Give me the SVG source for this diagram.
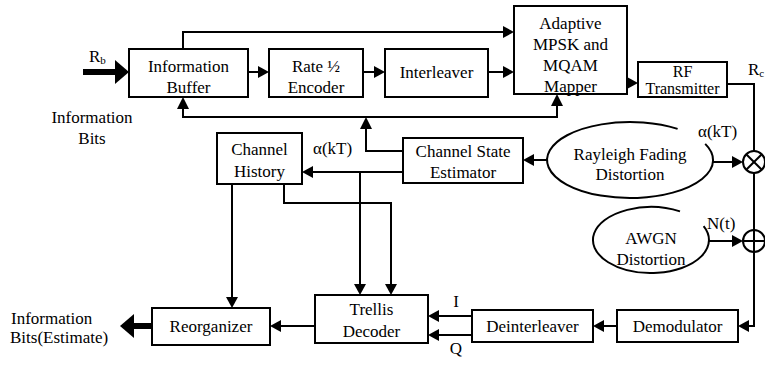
<svg xmlns="http://www.w3.org/2000/svg" width="765" height="365" viewBox="0 0 765 365" font-family="'Liberation Serif', 'DejaVu Serif', serif" font-size="17">
<style>
.box{fill:#fff;stroke:#000;stroke-width:2}
.ln{fill:none;stroke:#000;stroke-width:2}
.thick{fill:none;stroke:#000;stroke-width:6}
.ah{fill:#000}
text{font-family:'Liberation Serif','DejaVu Serif',serif;font-size:17px;fill:#000}
.c{text-anchor:middle}
</style>
<rect width="765" height="365" fill="#fff"/>
<g id="connectors">
  <line class="thick" x1="83" y1="72" x2="118" y2="72"/>
  <polygon class="ah" points="115,60 129,72 115,84"/>
  <line class="ln" x1="248" y1="72" x2="258" y2="72"/>
  <polygon class="ah" points="258,66 269,72 258,78"/>
  <line class="ln" x1="363" y1="72" x2="374" y2="72"/>
  <polygon class="ah" points="374,66 385,72 374,78"/>
  <line class="ln" x1="488" y1="72" x2="503" y2="72"/>
  <polygon class="ah" points="503,66 514,72 503,78"/>
  <polyline class="ln" points="183,49 183,32 503,32"/>
  <polygon class="ah" points="503,26 514,32 503,38"/>
  <polygon class="ah" points="627,77 638,83 627,89"/>
  <polyline class="ln" points="727,84 754,84 754,326 749,326"/>
  <polygon class="ah" points="749,320 738,326 749,332"/>
  <line class="ln" x1="617" y1="326" x2="604" y2="326"/>
  <polygon class="ah" points="604,320 593,326 604,332"/>
  <line class="ln" x1="472" y1="316" x2="439" y2="316"/>
  <polygon class="ah" points="439,310 428,316 439,322"/>
  <line class="ln" x1="472" y1="335" x2="439" y2="335"/>
  <polygon class="ah" points="439,329 428,335 439,341"/>
  <line class="ln" x1="315" y1="326" x2="281" y2="326"/>
  <polygon class="ah" points="281,320 270,326 281,332"/>
  <line class="thick" x1="152" y1="326" x2="132" y2="326"/>
  <polygon class="ah" points="134,314 120,326 134,338"/>
  <line class="ln" x1="547" y1="160" x2="534" y2="160"/>
  <polygon class="ah" points="534,154 523,160 534,166"/>
  <line class="ln" x1="712" y1="162" x2="732" y2="162"/>
  <polygon class="ah" points="732,156 743,162 732,168"/>
  <line class="ln" x1="709" y1="241" x2="732" y2="241"/>
  <polygon class="ah" points="732,235 743,241 732,247"/>
  <polyline class="ln" points="403,151 366,151 366,128"/>
  <polygon class="ah" points="360,129 366,117 372,129"/>
  <polyline class="ln" points="183,108 183,117 557,117 557,105"/>
  <polygon class="ah" points="177,109 183,97 189,109"/>
  <polygon class="ah" points="551,106 557,94 563,106"/>
  <line class="ln" x1="403" y1="172" x2="313" y2="172"/>
  <polygon class="ah" points="313,166 302,172 313,178"/>
  <line class="ln" x1="360" y1="172" x2="360" y2="284"/>
  <polygon class="ah" points="354,284 360,295 366,284"/>
  <polyline class="ln" points="284,184 284,203 391,203 391,284"/>
  <polygon class="ah" points="385,284 391,295 397,284"/>
  <line class="ln" x1="232" y1="184" x2="232" y2="297"/>
  <polygon class="ah" points="226,297 232,308 238,297"/>
</g>
<g id="buffer"><rect class="box" x="129" y="49" width="119" height="48"/><text class="c" x="188.5" y="72">Information</text><text class="c" x="188.5" y="93">Buffer</text></g>
<g id="encoder"><rect class="box" x="269" y="49" width="94" height="48"/><text class="c" x="316" y="72">Rate ½</text><text class="c" x="316" y="93">Encoder</text></g>
<g id="interleaver"><rect class="box" x="385" y="49" width="103" height="48"/><text class="c" x="436.5" y="78">Interleaver</text></g>
<g id="mapper"><rect class="box" x="514" y="6" width="113" height="88"/><text class="c" x="570.5" y="29">Adaptive</text><text class="c" x="570.5" y="50">MPSK and</text><text class="c" x="570.5" y="71">MQAM</text><text class="c" x="570.5" y="92">Mapper</text></g>
<g id="rf"><rect class="box" x="638" y="62" width="89" height="35"/><text class="c" x="682.5" y="77" style="font-size:16px">RF</text><text class="c" x="682.5" y="94" style="font-size:16px">Transmitter</text></g>
<g id="history"><rect class="box" x="217" y="133" width="85" height="51"/><text class="c" x="259.5" y="155">Channel</text><text class="c" x="259.5" y="177">History</text></g>
<g id="estimator"><rect class="box" x="403" y="138" width="120" height="45"/><text class="c" x="463" y="157">Channel State</text><text class="c" x="463" y="178">Estimator</text></g>
<g id="rayleigh"><path class="ln" d="M705.2,143.9 A83,38 0 1 1 677.6,128.9"/><text class="c" x="630" y="160">Rayleigh Fading</text><text class="c" x="630" y="180">Distortion</text></g>
<g id="awgn"><path class="ln" d="M703.6,226.1 A58,33 0 1 1 680,211.4"/><text class="c" x="651" y="244">AWGN</text><text class="c" x="651" y="265">Distortion</text></g>
<g id="multiplier"><circle class="box" cx="754" cy="162" r="11"/><line class="ln" x1="746.2" y1="154.2" x2="761.8" y2="169.8"/><line class="ln" x1="746.2" y1="169.8" x2="761.8" y2="154.2"/></g>
<g id="adder"><circle class="box" cx="754" cy="241" r="11"/><line class="ln" x1="743" y1="241" x2="765" y2="241"/><line class="ln" x1="754" y1="230" x2="754" y2="252"/></g>
<g id="trellis"><rect class="box" x="315" y="295" width="113" height="48"/><text class="c" x="371.5" y="315">Trellis</text><text class="c" x="371.5" y="337">Decoder</text></g>
<g id="reorganizer"><rect class="box" x="152" y="308" width="118" height="37"/><text class="c" x="211" y="332">Reorganizer</text></g>
<g id="deinterleaver"><rect class="box" x="472" y="310" width="121" height="32"/><text class="c" x="532.5" y="332">Deinterleaver</text></g>
<g id="demodulator"><rect class="box" x="617" y="310" width="121" height="32"/><text class="c" x="677.5" y="332">Demodulator</text></g>
<g id="labels">
  <text x="89" y="62">R<tspan font-size="11" dy="2">b</tspan></text>
  <text x="748" y="75">R<tspan font-size="11" dy="2">c</tspan></text>
  <text class="c" x="92" y="123">Information</text>
  <text class="c" x="92" y="144">Bits</text>
  <text x="313" y="154">α(kT)</text>
  <text x="698" y="137">α(kT)</text>
  <text x="707" y="229">N(t)</text>
  <text class="c" x="456" y="307">I</text>
  <text class="c" x="456" y="354">Q</text>
  <text x="11" y="324">Information</text>
  <text x="10" y="343">Bits(Estimate)</text>
</g>
</svg>
